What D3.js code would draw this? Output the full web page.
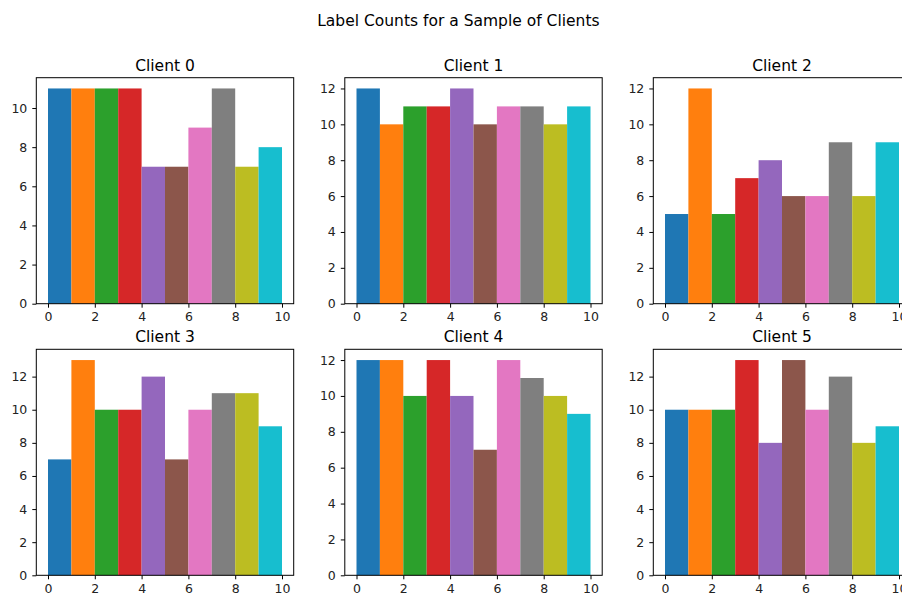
<!DOCTYPE html>
<html>
<head>
<meta charset="utf-8">
<script src="https://cdn.jsdelivr.net/npm/d3@7"></script>
<style>
  html, body { margin: 0; padding: 0; background: #fff; }
  svg { display: block; font-family: "DejaVu Sans", sans-serif; }
</style>
</head>
<body>
<svg id="chart" width="902" height="596"></svg>
<script>
const suptitle = "Label Counts for a Sample of Clients";
const clientNames = ["Client 0", "Client 1", "Client 2", "Client 3", "Client 4", "Client 5"];
const binEdges = [0, 1, 2, 3, 4, 5, 6, 7, 8, 9, 10];
const xTicks = [0, 2, 4, 6, 8, 10];
const client0 = [11, 11, 11, 11, 7, 7, 9, 11, 7, 8];
const client1 = [12, 10, 11, 11, 12, 10, 11, 11, 10, 11];
const client2 = [5, 12, 5, 7, 8, 6, 6, 9, 6, 9];
const client3 = [7, 13, 10, 10, 12, 7, 10, 11, 11, 9];
const client4 = [12, 12, 10, 12, 10, 7, 12, 11, 10, 9];
const client5 = [10, 10, 10, 13, 8, 13, 10, 12, 8, 9];
const counts = [client0, client1, client2, client3, client4, client5];
const colors = ["#1f77b4", "#ff7f0e", "#2ca02c", "#d62728", "#9467bd",
                "#8c564b", "#e377c2", "#7f7f7f", "#bcbd22", "#17becf"];

const svg = d3.select("#chart");

svg.append("text")
  .attr("x", 458.4).attr("y", 26)
  .attr("text-anchor", "middle")
  .style("font-size", "15.5px")
  .attr("fill", "#000")
  .text(suptitle);

const axW = 257.4, axH = 226;
const colLeft = [36.3, 344.8, 653.3];
const rowTop = [77.7, 349.3];

counts.forEach((vals, i) => {
  const r = Math.floor(i / 3), c = i % 3;
  const g = svg.append("g").attr("transform", `translate(${colLeft[c]},${rowTop[r]})`);
  const x = d3.scaleLinear().domain([-0.5, 10.5]).range([0, axW]);
  const ymax = d3.max(vals) * 1.05;
  const y = d3.scaleLinear().domain([0, ymax]).range([axH, 0]);

  g.selectAll("rect.bar").data(vals).enter().append("rect")
    .attr("class", "bar")
    .attr("x", (d, k) => x(binEdges[k]))
    .attr("width", (d, k) => x(binEdges[k + 1]) - x(binEdges[k]))
    .attr("y", d => y(d))
    .attr("height", d => y(0) - y(d))
    .attr("fill", (d, k) => colors[k]);

  const yTicks = d3.range(0, ymax, 2);
  const ya = g.append("g").call(d3.axisLeft(y).tickValues(yTicks).tickFormat(d3.format("d")).tickSize(4).tickPadding(5));
  const xa = g.append("g").attr("transform", `translate(0,${axH})`)
    .call(d3.axisBottom(x).tickValues(xTicks).tickFormat(d3.format("d")).tickSize(4).tickPadding(4.5));
  [ya, xa].forEach(a => {
    a.select(".domain").remove();
    a.selectAll("line").attr("stroke", "#000").attr("stroke-width", 1);
    a.selectAll("text").style("font-size", "12.5px").style("font-family", "'DejaVu Sans', sans-serif").attr("fill", "#222");
  });

  g.append("rect")
    .attr("x", 0).attr("y", 0).attr("width", axW).attr("height", axH)
    .attr("fill", "none").attr("stroke", "#000").attr("stroke-width", 1);

  g.append("text")
    .attr("x", axW / 2).attr("y", -7)
    .attr("text-anchor", "middle")
    .style("font-size", "15.5px")
    .attr("fill", "#000")
    .text(clientNames[i]);
});
</script>
</body>
</html>
